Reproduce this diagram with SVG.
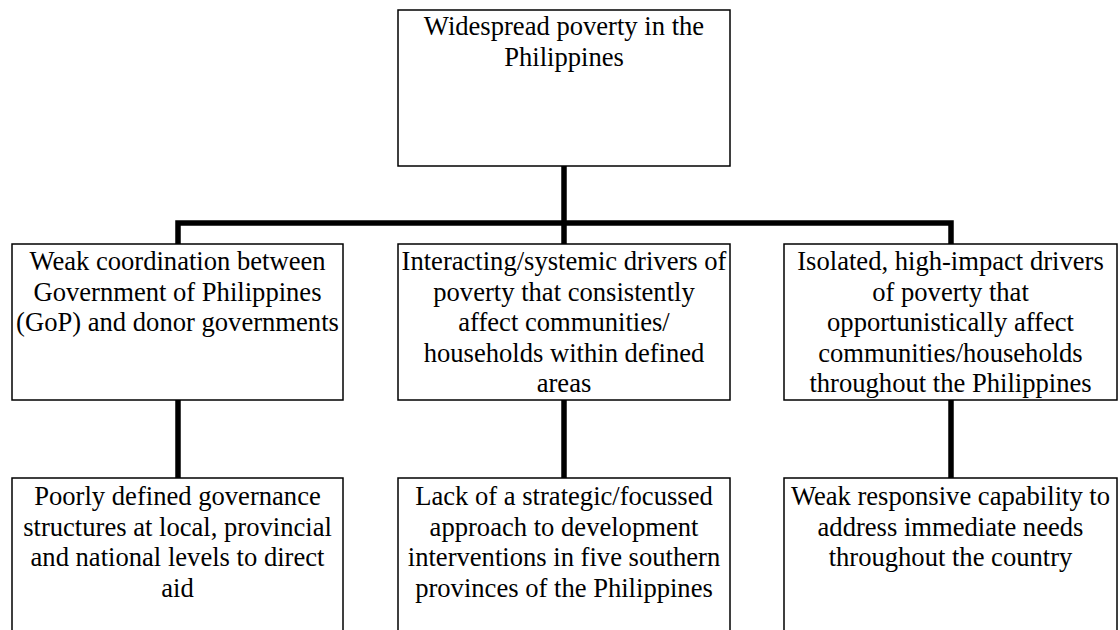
<svg xmlns="http://www.w3.org/2000/svg" width="1120" height="630" viewBox="0 0 1120 630">
<style>
.box{fill:#fff;stroke:#000;stroke-width:1.5}
.t{font-family:'Liberation Serif','Times New Roman',serif;font-size:26.6px;fill:#000;text-anchor:middle}
.c{fill:none;stroke:#000;stroke-width:5.5;stroke-linejoin:miter;stroke-linecap:butt}
</style>
<rect width="1120" height="630" fill="#fff"/>
<g id="connectors">
<path class="c" d="M564 166 V244"/>
<path class="c" d="M178 244 V223 H951 V244"/>
<path class="c" d="M178 400 V478"/>
<path class="c" d="M564 400 V478"/>
<path class="c" d="M951 400 V478"/>
</g>
<g id="top">
<rect class="box" x="398" y="10" width="332" height="156"/>
<text class="t" x="564" y="35">Widespread poverty in the</text>
<text class="t" x="564" y="65.5">Philippines</text>
</g>
<g id="mid-left">
<rect class="box" x="12" y="244" width="331" height="156"/>
<text class="t" x="177.5" y="270">Weak coordination between</text>
<text class="t" x="177.5" y="300.5">Government of Philippines</text>
<text class="t" x="177.5" y="331">(GoP) and donor governments</text>
</g>
<g id="mid-center">
<rect class="box" x="398" y="244" width="332" height="156"/>
<text class="t" x="564" y="270">Interacting/systemic drivers of</text>
<text class="t" x="564" y="300.5">poverty that consistently</text>
<text class="t" x="564" y="331">affect communities/</text>
<text class="t" x="564" y="361.5">households within defined</text>
<text class="t" x="564" y="392">areas</text>
</g>
<g id="mid-right">
<rect class="box" x="784" y="244" width="333" height="156"/>
<text class="t" x="950.5" y="270">Isolated, high-impact drivers</text>
<text class="t" x="950.5" y="300.5">of poverty that</text>
<text class="t" x="950.5" y="331">opportunistically affect</text>
<text class="t" x="950.5" y="361.5">communities/households</text>
<text class="t" x="950.5" y="392">throughout the Philippines</text>
</g>
<g id="bottom-left">
<rect class="box" x="12" y="478" width="331" height="170"/>
<text class="t" x="177.5" y="505">Poorly defined governance</text>
<text class="t" x="177.5" y="535.5">structures at local, provincial</text>
<text class="t" x="177.5" y="566">and national levels to direct</text>
<text class="t" x="177.5" y="596.5">aid</text>
</g>
<g id="bottom-center">
<rect class="box" x="398" y="478" width="332" height="170"/>
<text class="t" x="564" y="505">Lack of a strategic/focussed</text>
<text class="t" x="564" y="535.5">approach to development</text>
<text class="t" x="564" y="566">interventions in five southern</text>
<text class="t" x="564" y="596.5">provinces of the Philippines</text>
</g>
<g id="bottom-right">
<rect class="box" x="784" y="478" width="333" height="170"/>
<text class="t" x="950.5" y="505">Weak responsive capability to</text>
<text class="t" x="950.5" y="535.5">address immediate needs</text>
<text class="t" x="950.5" y="566">throughout the country</text>
</g>
</svg>
